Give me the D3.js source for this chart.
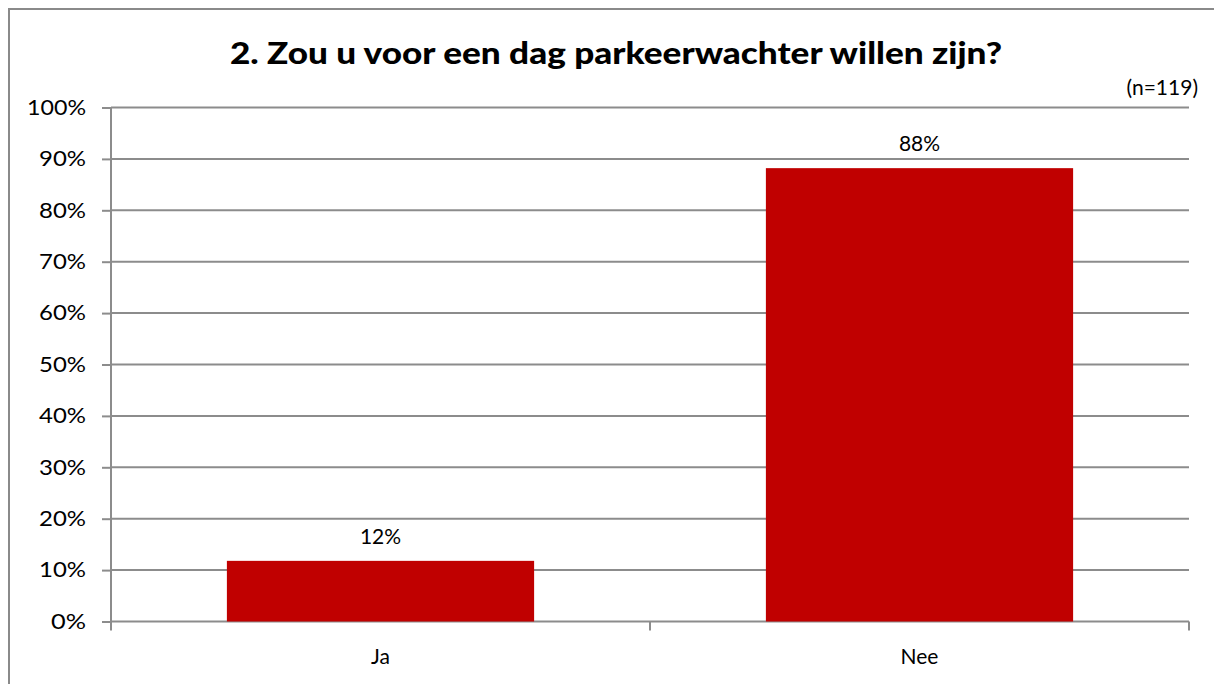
<!DOCTYPE html>
<html><head><meta charset="utf-8">
<script src="https://cdn.jsdelivr.net/npm/d3@7"></script>
<style>body{margin:0;background:#fff}svg{display:block}text{font-family:Lato,"Open Sans",sans-serif;fill:#000}</style>
</head><body><svg id="c" width="1214" height="684"></svg>
<script>
const categories = ["Ja", "Nee"];
const values = [0.118, 0.882];
const valueLabels = ["12%", "88%"];
const yTicks = [0,0.1,0.2,0.3,0.4,0.5,0.6,0.7,0.8,0.9,1.0];
const title = "2. Zou u voor een dag parkeerwachter willen zijn?";
const note = "(n=119)";

const FS = 21;
const svg = d3.select("#c");
svg.append("rect").attr("x",9).attr("y",9).attr("width",1220).attr("height",700)
  .attr("fill","none").attr("stroke","#8a8a8a").attr("stroke-width",2);

const L=111, R=1189, T=107.5, B=621.5;
const x = d3.scaleBand().domain(categories).range([L,R]).paddingInner(0.43).paddingOuter(0.215);
const y = d3.scaleLinear().domain([0,1]).range([B,T]);
const grid="#8c8c8c";

svg.append("g").selectAll("line").data(yTicks).join("line")
  .attr("x1",L).attr("x2",R).attr("y1",d=>y(d)).attr("y2",d=>y(d))
  .attr("stroke",grid).attr("stroke-width",2);

svg.append("g").selectAll("rect").data(values).join("rect")
  .attr("x",(d,i)=>x(categories[i])).attr("width",x.bandwidth())
  .attr("y",d=>y(d)).attr("height",d=>B-y(d)).attr("fill","#c00000");

// y axis
const ya = svg.append("g").attr("transform",`translate(${L},0)`)
  .call(d3.axisLeft(y).tickValues(yTicks).tickFormat(d3.format(".0%")).tickSize(9).tickPadding(16));
ya.attr("font-size",FS).attr("font-family",null);
ya.select(".domain").attr("stroke",grid).attr("stroke-width",2).attr("d",`M0,${T}V${B+1}`);
ya.selectAll(".tick line").attr("stroke",grid).attr("stroke-width",2);
ya.selectAll("text").attr("fill","#000").attr("textLength",d=>d===1?59:(d===0?35:47)).attr("lengthAdjust","spacingAndGlyphs");

// x axis
const xa = svg.append("g").attr("transform",`translate(0,${B})`)
  .call(d3.axisBottom(x).tickSize(0).tickPadding(28));
xa.attr("font-size",FS).attr("font-family",null);
xa.select(".domain").remove();
xa.selectAll("text").attr("fill","#000");
const bounds = [L].concat(categories.map(c=>x(c)-x.step()*x.paddingInner()/2+x.step())).slice(0,categories.length+1);
svg.append("g").selectAll("line").data(bounds).join("line")
  .attr("x1",d=>d).attr("x2",d=>d).attr("y1",B).attr("y2",B+9)
  .attr("stroke",grid).attr("stroke-width",2);

// value labels
svg.append("g").selectAll("text").data(values).join("text")
  .attr("x",(d,i)=>x(categories[i])+x.bandwidth()/2).attr("y",d=>y(d)-17)
  .attr("text-anchor","middle").attr("font-size",FS).text((d,i)=>valueLabels[i]);

svg.append("text").attr("x",616).attr("y",64).attr("text-anchor","middle")
  .attr("font-size",31).attr("font-weight",900).attr("textLength",772).attr("lengthAdjust","spacingAndGlyphs").text(title);
svg.append("text").attr("x",1198).attr("y",95).attr("text-anchor","end").attr("font-size",FS).text(note);
</script></body></html>
